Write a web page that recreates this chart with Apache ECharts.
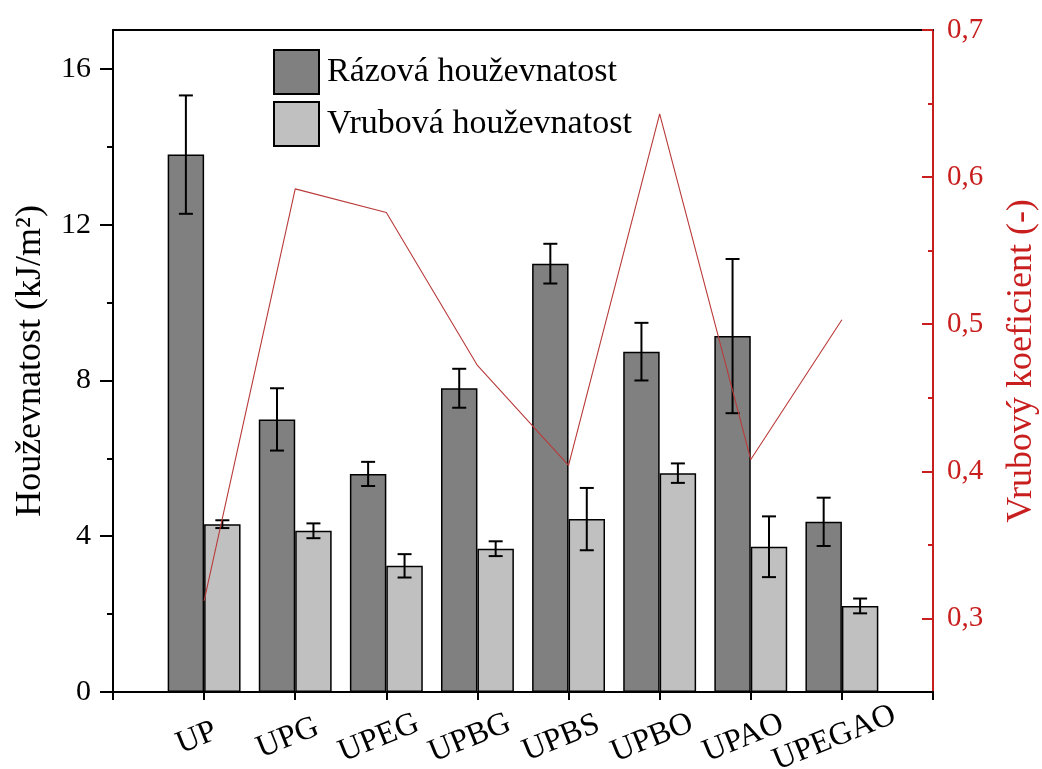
<!DOCTYPE html>
<html>
<head>
<meta charset="utf-8">
<script src="https://cdn.jsdelivr.net/npm/echarts@6/dist/echarts.min.js"></script>
<style>
html,body{margin:0;padding:0;background:#fff;}
#chart{width:1042px;height:769px;}
</style>
</head>
<body>
<div id="chart"></div>
<script>
const categories = ['UP','UPG','UPEG','UPBG','UPBS','UPBO','UPAO','UPEGAO'];
const impact     = [13.8, 7.0, 5.6, 7.8, 11.0, 8.74, 9.14, 4.37];
const impactErr  = [1.52, 0.8, 0.31, 0.5, 0.51, 0.74, 1.98, 0.62];
const notched    = [4.31, 4.14, 3.24, 3.68, 4.44, 5.62, 3.73, 2.21];
const notchedErr = [0.1, 0.19, 0.3, 0.19, 0.8, 0.25, 0.78, 0.19];
const coef       = [0.312, 0.592, 0.576, 0.472, 0.404, 0.643, 0.408, 0.503];
const leftTicks  = [0, 4, 8, 12, 16];
const leftMinor  = [2, 6, 10, 14];
const rightTicks = [0.3, 0.4, 0.5, 0.6, 0.7];
const rightMinor = [0.35, 0.45, 0.55, 0.65];

const FONT = 'Liberation Serif';
const RED = '#c81e1e';
const axisCats = [''].concat(categories, ['']);
const pad = arr => [null].concat(arr, [null]);

const errData = [];
categories.forEach((c, i) => {
  errData.push([i + 1, impact[i], impactErr[i], -1]);
  errData.push([i + 1, notched[i], notchedErr[i], 1]);
});

const chart = echarts.init(document.getElementById('chart'));
chart.setOption({
  animation: false,
  backgroundColor: '#fff',
  textStyle: { fontFamily: FONT },
  grid: { left: 113, right: 109, top: 30, bottom: 77, containLabel: false, outerBoundsMode: 'none' },
  legend: {
    data: ['Rázová houževnatost', 'Vrubová houževnatost'],
    orient: 'vertical', left: 273, top: 49, padding: 0,
    itemWidth: 45, itemHeight: 44, itemGap: 6, icon: 'rect',
    textStyle: { fontFamily: FONT, fontSize: 34, color: '#000', padding: [0, 0, 0, 3] }
  },
  xAxis: [{
    type: 'category', data: axisCats, boundaryGap: false, position: 'bottom',
    axisLine: { onZero: false, lineStyle: { color: '#000', width: 2 } },
    axisTick: { show: true, interval: 0, length: 8, lineStyle: { color: '#000', width: 2 } },
    axisLabel: { interval: 0, rotate: 22, fontSize: 32, color: '#000', fontFamily: FONT,
      align: 'center', verticalAlign: 'middle', margin: 43, padding: [0, 16, 0, 0] },
    splitLine: { show: false }
  }, {
    type: 'category', data: axisCats, boundaryGap: false, position: 'top',
    axisLine: { onZero: false, lineStyle: { color: '#000', width: 2 } },
    axisTick: { show: false }, axisLabel: { show: false }, splitLine: { show: false }
  }],
  yAxis: [{
    type: 'value', position: 'left', min: 0, max: 17,
    name: 'Houževnatost (kJ/m²)', nameLocation: 'middle', nameGap: 64, nameRotate: 90,
    nameTextStyle: { fontSize: 36, color: '#000', fontFamily: FONT },
    axisLine: { show: true, onZero: false, lineStyle: { color: '#000', width: 2 } },
    axisTick: { show: true, customValues: leftTicks, length: 13, lineStyle: { color: '#000', width: 2 } },
    axisLabel: { customValues: leftTicks, fontSize: 30, color: '#000', margin: 22, fontFamily: FONT },
    splitLine: { show: false }
  }, {
    type: 'value', position: 'left', min: 0, max: 17,
    axisLine: { show: false },
    axisTick: { show: true, customValues: leftMinor, length: 6, lineStyle: { color: '#000', width: 2 } },
    axisLabel: { show: false }, splitLine: { show: false }
  }, {
    type: 'value', position: 'right', min: 0.25, max: 0.7,
    name: 'Vrubový koeficient (-)', nameLocation: 'middle', nameGap: 71, nameRotate: 90,
    nameTextStyle: { fontSize: 36, color: RED, fontFamily: FONT },
    axisLine: { show: true, onZero: false, lineStyle: { color: RED, width: 2 } },
    axisTick: { show: true, inside: true, customValues: rightTicks, length: 11, lineStyle: { color: RED, width: 2 } },
    axisLabel: { customValues: rightTicks, fontSize: 29, color: RED, margin: 14, fontFamily: FONT,
      formatter: v => v.toFixed(1).replace('.', ',') },
    splitLine: { show: false }
  }, {
    type: 'value', position: 'right', min: 0.25, max: 0.7,
    axisLine: { show: false },
    axisTick: { show: true, inside: true, customValues: rightMinor, length: 5, lineStyle: { color: RED, width: 2 } },
    axisLabel: { show: false }, splitLine: { show: false }
  }],
  series: [{
    name: 'Rázová houževnatost', type: 'bar', data: pad(impact),
    barWidth: '40%', barGap: '0%',
    itemStyle: { color: '#808080', borderColor: '#000', borderWidth: 1.5 }
  }, {
    name: 'Vrubová houževnatost', type: 'bar', data: pad(notched),
    barWidth: '40%', barGap: '0%',
    itemStyle: { color: '#c0c0c0', borderColor: '#000', borderWidth: 1.5 }
  }, {
    name: 'err', type: 'custom', data: errData, z: 5,
    renderItem: (params, api) => {
      const x = api.value(0), v = api.value(1), e = api.value(2), s = api.value(3);
      const bw = api.size([1, 0])[0];
      const off = s * bw * 0.2;
      const top = api.coord([x, v + e]);
      const bot = api.coord([x, v - e]);
      const cx = top[0] + off;
      const cap = 7;
      const st = { stroke: '#000', lineWidth: 2 };
      return { type: 'group', children: [
        { type: 'line', shape: { x1: cx, y1: top[1], x2: cx, y2: bot[1] }, style: st },
        { type: 'line', shape: { x1: cx - cap, y1: top[1], x2: cx + cap, y2: top[1] }, style: st },
        { type: 'line', shape: { x1: cx - cap, y1: bot[1], x2: cx + cap, y2: bot[1] }, style: st }
      ]};
    }
  }, {
    name: 'Vrubový koeficient', type: 'line', yAxisIndex: 2, data: pad(coef),
    symbol: 'none', z: 6, connectNulls: false,
    lineStyle: { color: '#b83a3a', width: 1.1 }, itemStyle: { color: '#b83a3a' }
  }]
});
</script>
</body>
</html>
